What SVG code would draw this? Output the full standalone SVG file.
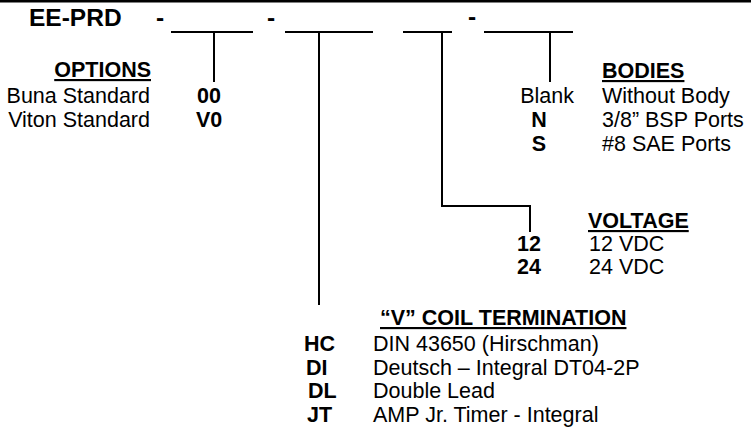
<svg xmlns="http://www.w3.org/2000/svg" width="751" height="430" viewBox="0 0 751 430">
<style>
text{font-family:"Liberation Sans",Arial,sans-serif;fill:#000}
.t{font-size:24.5px;font-weight:bold}
.h{font-size:21.5px;font-weight:bold;text-decoration:underline}
.r{font-size:21.5px}
.b{font-size:21.5px;font-weight:bold}
.ln{stroke:#000;stroke-width:2;fill:none}
</style>
<rect x="0" y="0" width="751" height="2.5" fill="#000"/>
<g id="title">
<text class="t" x="29" y="26">EE-PRD</text>
<text class="t" x="156" y="26">-</text>
<text class="t" x="267" y="26">-</text>
<text class="t" x="468" y="25">-</text>
</g>
<g id="connectors">
<path class="ln" d="M171 32H253M214 32V82"/>
<path class="ln" d="M285 32H373M319 32V305"/>
<path class="ln" d="M403 32H452M442 32V206H530V232"/>
<path class="ln" d="M484 32H573M550 32V82"/>
</g>
<g id="options">
<text class="h" x="151" y="77" text-anchor="end">OPTIONS</text>
<text class="r" x="150" y="103" text-anchor="end">Buna Standard</text>
<text class="r" x="150" y="127" text-anchor="end">Viton Standard</text>
<text class="b" x="197" y="103">00</text>
<text class="b" x="196" y="127">V0</text>
</g>
<g id="bodies">
<text class="h" x="602" y="78">BODIES</text>
<text class="r" x="574" y="103" text-anchor="end">Blank</text>
<text class="b" x="539" y="127" text-anchor="middle">N</text>
<text class="b" x="539" y="151" text-anchor="middle">S</text>
<text class="r" x="602" y="103">Without Body</text>
<text class="r" x="602" y="127">3/8” BSP Ports</text>
<text class="r" x="602" y="151">#8 SAE Ports</text>
</g>
<g id="voltage">
<text class="h" x="588" y="228">VOLTAGE</text>
<text class="b" x="541" y="251" text-anchor="end">12</text>
<text class="b" x="541" y="274" text-anchor="end">24</text>
<text class="r" x="589" y="251">12 VDC</text>
<text class="r" x="589" y="274">24 VDC</text>
</g>
<g id="coil">
<text class="h" x="380" y="325">“V” COIL TERMINATION</text>
<text class="b" x="304" y="351">HC</text>
<text class="b" x="306" y="375">DI</text>
<text class="b" x="308" y="398">DL</text>
<text class="b" x="307" y="422">JT</text>
<text class="r" x="373" y="351">DIN 43650 (Hirschman)</text>
<text class="r" x="373" y="375">Deutsch – Integral DT04-2P</text>
<text class="r" x="373" y="398">Double Lead</text>
<text class="r" x="373" y="422">AMP Jr. Timer - Integral</text>
</g>
</svg>
